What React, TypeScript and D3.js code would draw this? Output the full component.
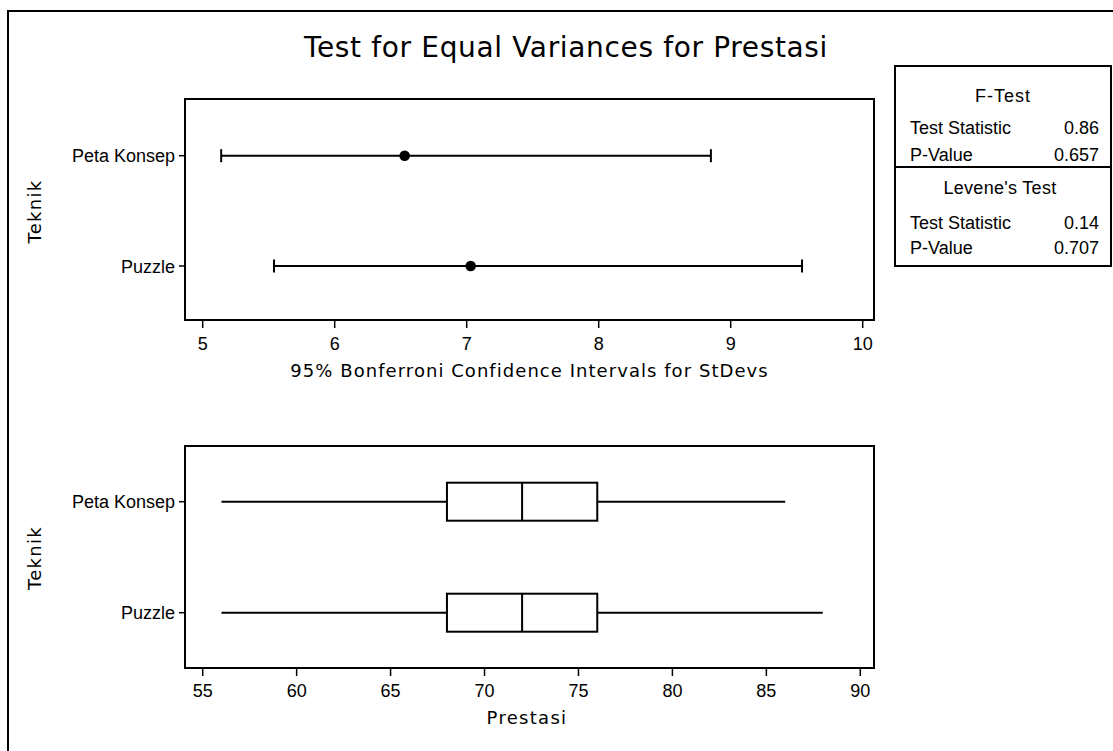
import React from "react";
import * as d3 from "d3";

const categories = ["Peta Konsep", "Puzzle"];
const ciLower = [5.14, 5.54];
const ciStDev = [6.53, 7.03];
const ciUpper = [8.85, 9.54];
const ciTicks = [5, 6, 7, 8, 9, 10];

const boxMin = [56, 56];
const boxQ1 = [68, 68];
const boxMedian = [72, 72];
const boxQ3 = [76, 76];
const boxMax = [86, 88];
const boxTicks = [55, 60, 65, 70, 75, 80, 85, 90];

const fTestRows = [
  ["Test Statistic", "0.86"],
  ["P-Value", "0.657"],
];
const leveneRows = [
  ["Test Statistic", "0.14"],
  ["P-Value", "0.707"],
];

const TITLE = "Test for Equal Variances for Prestasi";
const CI_LABEL = "95% Bonferroni Confidence Intervals for StDevs";
const BOX_LABEL = "Prestasi";
const Y_LABEL = "Teknik";

const labelFont = "'DejaVu Sans', Verdana, sans-serif";
const tickFont = "'Liberation Sans', Arial, sans-serif";

export default function App() {
  const p1 = { left: 185, right: 874, top: 99, bottom: 320 };
  const p2 = { left: 185, right: 874, top: 446, bottom: 668 };

  const x1 = d3.scaleLinear().domain([5, 10]).range([202.7, 862.7]);
  const y1 = d3.scalePoint<string>().domain(categories).range([155.7, 266]);
  const x2 = d3.scaleLinear().domain([55, 90]).range([202.7, 860.3]);
  const y2 = d3.scalePoint<string>().domain(categories).range([501.7, 612.7]);

  const capH = 6.5;
  const boxH = 19;

  const panelFrame = (p: typeof p1) => (
    <rect
      x={p.left}
      y={p.top}
      width={p.right - p.left}
      height={p.bottom - p.top}
      fill="none"
      stroke="#000"
      strokeWidth={2}
    />
  );

  const catAxis = (p: typeof p1, y: d3.ScalePoint<string>) =>
    categories.map((c) => (
      <g key={c}>
        <line x1={p.left - 6} x2={p.left} y1={y(c)} y2={y(c)} stroke="#000" strokeWidth={1.5} />
        <text
          x={p.left - 10}
          y={(y(c) as number) + 6.5}
          textAnchor="end"
          fontFamily={tickFont}
          fontSize={18}
          fill="#000"
        >
          {c}
        </text>
      </g>
    ));

  const valAxis = (p: typeof p1, x: d3.ScaleLinear<number, number>, ticks: number[], labelY: number) =>
    ticks.map((t) => (
      <g key={t}>
        <line x1={x(t)} x2={x(t)} y1={p.bottom} y2={p.bottom + 8} stroke="#000" strokeWidth={1.5} />
        <text x={x(t)} y={labelY} textAnchor="middle" fontFamily={tickFont} fontSize={18} fill="#000">
          {t}
        </text>
      </g>
    ));

  const boxLeft = 895;
  const boxRight = 1111;
  const textLeft = 910;
  const textRight = 1099;
  const boxCx = (boxLeft + boxRight) / 2;

  return (
    <svg
      width={1113}
      height={751}
      style={{ position: "absolute", left: 0, top: 0, background: "#fff" }}
    >
      <rect x={0} y={0} width={1113} height={751} fill="#fff" />
      {/* outer frame */}
      <rect x={8} y={11} width={1120} height={760} fill="none" stroke="#000" strokeWidth={2} />

      {/* title */}
      <text
        x={566}
        y={56.5}
        textAnchor="middle"
        fontFamily={labelFont}
        fontSize={28}
        letterSpacing={0.65}
        fill="#000"
      >
        {TITLE}
      </text>

      {/* top panel */}
      {panelFrame(p1)}
      {catAxis(p1, y1)}
      {valAxis(p1, x1, ciTicks, 350)}
      {categories.map((c, i) => {
        const y = y1(c) as number;
        return (
          <g key={c}>
            <line x1={x1(ciLower[i])} x2={x1(ciUpper[i])} y1={y} y2={y} stroke="#000" strokeWidth={2} />
            <line x1={x1(ciLower[i])} x2={x1(ciLower[i])} y1={y - capH} y2={y + capH} stroke="#000" strokeWidth={2} />
            <line x1={x1(ciUpper[i])} x2={x1(ciUpper[i])} y1={y - capH} y2={y + capH} stroke="#000" strokeWidth={2} />
            <circle cx={x1(ciStDev[i])} cy={y} r={5.3} fill="#000" />
          </g>
        );
      })}
      <text
        x={(p1.left + p1.right) / 2}
        y={376.5}
        textAnchor="middle"
        fontFamily={labelFont}
        fontSize={18}
        letterSpacing={1.05}
        fill="#000"
      >
        {CI_LABEL}
      </text>
      <text
        transform={`translate(41,${(p1.top + p1.bottom) / 2 + 2}) rotate(-90)`}
        textAnchor="middle"
        fontFamily={labelFont}
        fontSize={18}
        letterSpacing={1.3}
        fill="#000"
      >
        {Y_LABEL}
      </text>

      {/* bottom panel */}
      {panelFrame(p2)}
      {catAxis(p2, y2)}
      {valAxis(p2, x2, boxTicks, 697.3)}
      {categories.map((c, i) => {
        const y = y2(c) as number;
        return (
          <g key={c}>
            <line x1={x2(boxMin[i])} x2={x2(boxQ1[i])} y1={y} y2={y} stroke="#000" strokeWidth={2} />
            <line x1={x2(boxQ3[i])} x2={x2(boxMax[i])} y1={y} y2={y} stroke="#000" strokeWidth={2} />
            <rect
              x={x2(boxQ1[i])}
              y={y - boxH}
              width={x2(boxQ3[i]) - x2(boxQ1[i])}
              height={boxH * 2}
              fill="#fff"
              stroke="#000"
              strokeWidth={2}
            />
            <line x1={x2(boxMedian[i])} x2={x2(boxMedian[i])} y1={y - boxH} y2={y + boxH} stroke="#000" strokeWidth={2} />
          </g>
        );
      })}
      <text
        x={527}
        y={724}
        textAnchor="middle"
        fontFamily={labelFont}
        fontSize={18}
        letterSpacing={1.3}
        fill="#000"
      >
        {BOX_LABEL}
      </text>
      <text
        transform={`translate(41,${(p2.top + p2.bottom) / 2 + 1}) rotate(-90)`}
        textAnchor="middle"
        fontFamily={labelFont}
        fontSize={18}
        letterSpacing={1.3}
        fill="#000"
      >
        {Y_LABEL}
      </text>

      {/* stats box */}
      <rect x={boxLeft} y={66} width={boxRight - boxLeft} height={200} fill="#fff" stroke="#000" strokeWidth={2} />
      <line x1={boxLeft} x2={boxRight} y1={167} y2={167} stroke="#000" strokeWidth={2} />
      <text x={boxCx} y={101.5} textAnchor="middle" fontFamily={tickFont} fontSize={18} letterSpacing={1} fill="#000">
        F-Test
      </text>
      {fTestRows.map((r, i) => (
        <g key={"f" + i}>
          <text x={textLeft} y={134 + i * 26.7} fontFamily={tickFont} fontSize={18} fill="#000">
            {r[0]}
          </text>
          <text x={textRight} y={134 + i * 26.7} textAnchor="end" fontFamily={tickFont} fontSize={18} fill="#000">
            {r[1]}
          </text>
        </g>
      ))}
      <text x={boxCx - 3} y={194} textAnchor="middle" fontFamily={tickFont} fontSize={18} letterSpacing={0.3} fill="#000">
        Levene's Test
      </text>
      {leveneRows.map((r, i) => (
        <g key={"l" + i}>
          <text x={textLeft} y={229 + i * 25} fontFamily={tickFont} fontSize={18} fill="#000">
            {r[0]}
          </text>
          <text x={textRight} y={229 + i * 25} textAnchor="end" fontFamily={tickFont} fontSize={18} fill="#000">
            {r[1]}
          </text>
        </g>
      ))}
    </svg>
  );
}
